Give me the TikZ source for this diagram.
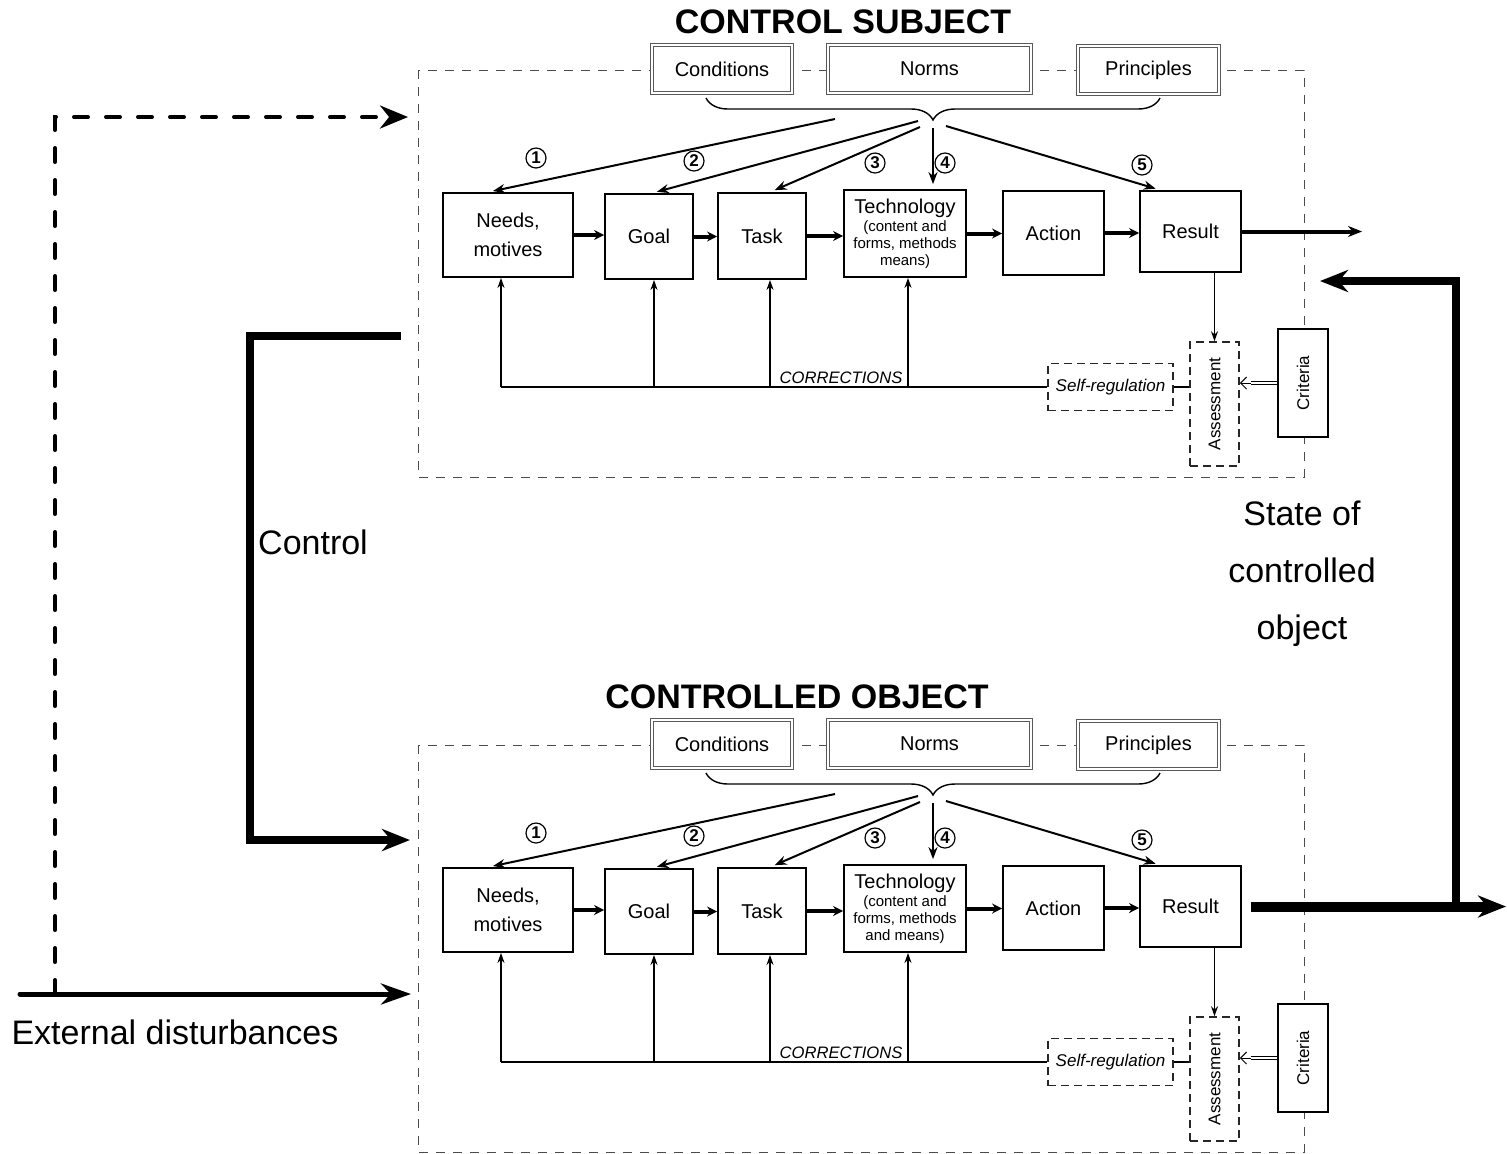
\documentclass[tikz,border=0pt]{standalone}
\usepackage{fontspec}
\setmainfont{Liberation Sans}
\usepackage{graphicx}
\usetikzlibrary{arrows.meta}
\usetikzlibrary{calc}
\usetikzlibrary{decorations.pathreplacing}

\newcommand{\tfont}{\fontsize{7.5}{8.5}\selectfont}

\tikzset{
    stagebox/.style={draw, line width=0.9pt, inner sep=0pt, align=center, font=\fontsize{10}{12}\selectfont},
    headbox/.style={draw=black!65, double=white, double distance=1.2pt, line width=0.6pt, fill=white, inner sep=0pt, minimum height=24pt, font=\fontsize{10}{12}\selectfont},
    framebox/.style={draw=black!70, line width=0.5pt, dash pattern=on 4.5pt off 4pt},
    dashbox/.style={draw=black!85, line width=0.8pt, dash pattern=on 4pt off 2.5pt, inner sep=0pt, font=\fontsize{8.5}{10}\selectfont},
    critbox/.style={draw, fill=white, line width=0.8pt, inner sep=0pt, font=\fontsize{8.5}{10}\selectfont},
    numcirc/.style={draw, circle, line width=0.6pt, minimum size=10pt, inner sep=0pt, font=\bfseries\fontsize{8.5}{9}\selectfont},
    flow/.style={line width=2pt, -{Stealth[length=5pt,width=5pt]}},
    normarrow/.style={line width=1pt, shorten >=2.5pt, -{Stealth[length=6pt,width=4.5pt]}},
    corrarrow/.style={line width=0.7pt, -{Stealth[length=5pt,width=3.5pt]}},
    bigarrow/.style={line width=4pt, -{Stealth[length=14pt,width=11pt]}},
    bigtext/.style={font=\fontsize{17}{28.5}\selectfont, align=center},
}

\begin{document}
\begin{tikzpicture}[x=0.5pt, y=-0.5pt]
    \useasboundingbox (0,0) rectangle (1507,1153);
    % the two blocks
    \foreach \n/\yo/\tx/\title/\tech in {s/0/843/CONTROL SUBJECT/{{\tfont (content and}\\[-3.5pt]{\tfont forms, methods}\\[-3.5pt]{\tfont means)}}, o/675/797/CONTROLLED OBJECT/{{\tfont (content and}\\[-3.5pt]{\tfont forms, methods}\\[-3.5pt]{\tfont and means)}}} {
    \begin{scope}[shift={(0,\yo)}]
        \node[font=\bfseries\fontsize{17}{20}\selectfont] (title\n) at (\tx,22) {\title};
        \draw[framebox] (418,70) rectangle (1304,477);
        \node[headbox, minimum width=70pt] (cond\n) at (722,69) {Conditions};
        \node[headbox, minimum width=101.5pt] (norms\n) at (929.5,69) {Norms};
        \node[headbox, minimum width=70.5pt] (princ\n) at (1148.5,70) {Principles};
        \draw[line width=0.7pt, decorate, decoration={brace, mirror, amplitude=11pt}] (706,98) -- (1160,98);
        \coordinate (tip\n) at (933,120);
        % stages
        \node[stagebox, minimum width=65pt, minimum height=42pt] (needs\n) at (508,235) {Needs,\\[2.5pt]motives};
        \node[stagebox, minimum width=44pt, minimum height=42.5pt] (goal\n) at (649,236.5) {Goal};
        \node[stagebox, minimum width=44pt, minimum height=43pt] (task\n) at (762,236) {Task};
        \node[stagebox, minimum width=61pt, minimum height=43.5pt] (tech\n) at (905,233.5) {Technology\\[-3pt]\tech};
        \node[stagebox, minimum width=50.5pt, minimum height=42pt] (action\n) at (1053.5,233) {Action};
        \node[stagebox, minimum width=50.5pt, minimum height=40.5pt] (result\n) at (1190.5,231.5) {Result};
        \foreach \a/\b in {needs/goal, goal/task, task/tech, tech/action, action/result}
            \draw[flow] (\a\n.east) -- (\a\n.east -| \b\n.west);
        % from norms to stages
        \draw[normarrow] ($(tip\n)+(-98,-1)$) -- ([xshift=-10pt]needs\n.north);
        \draw[normarrow] ($(tip\n)+(-15,1)$) -- ([xshift=1.5pt]goal\n.north);
        \draw[normarrow] ($(tip\n)+(-13,7)$) -- ([xshift=4pt]task\n.north);
        \draw[normarrow] ($(tip\n)+(0,8)$) -- ([xshift=14pt]tech\n.north);
        \draw[normarrow] ($(tip\n)+(13,6)$) -- ([xshift=-15pt]result\n.north);
        \foreach \k/\x/\y in {1/536/158, 2/694/161, 3/875/163, 4/945/163, 5/1142/165}
            \node[numcirc] (num\k\n) at (\x,\y) {\k};
        % corrections
        \node[dashbox, minimum width=62.5pt, minimum height=23.5pt] (selfreg\n) at (1110.5,387) {\itshape Self-regulation};
        \node[dashbox, minimum width=24.5pt, minimum height=62pt] (assess\n) at (1214.5,404) {\rotatebox{90}{Assessment}};
        \node[critbox, minimum width=25pt, minimum height=54pt] (crit\n) at (1303,383) {\rotatebox{90}{Criteria}};
        \draw[corrarrow] (assess\n.north |- result\n.south) -- (assess\n.north);
        \draw[line width=0.4pt, double, double distance=0.8pt] (crit\n.west) -- ++(-26,0) coordinate (twin\n);
        \draw[line width=0.5pt, -{Straight Barb[length=3pt,width=6pt]}] (twin\n) -- (twin\n -| assess\n.east);
        \draw[line width=0.7pt] (selfreg\n.east) -- (selfreg\n.east -| assess\n.west);
        \foreach \k/\x/\b in {1/501/needs, 2/654/goal, 3/770/task, 4/908/tech} {
            \coordinate (foot\k\n) at (\x,387);
            \draw[corrarrow] (foot\k\n) -- (foot\k\n |- \b\n.south);
        }
        \draw[line width=0.7pt] (selfreg\n.west) -- (foot1\n);
        \node[font=\itshape\fontsize{8.3}{10}\selectfont, anchor=south, inner sep=1.5pt] (corr\n) at (841,387) {CORRECTIONS};
    \end{scope}
    }
    % output of the subject
    \coordinate (outs) at (1362,234);
    \draw[line width=2pt, -{Stealth[length=7pt,width=5.5pt]}] (results.east) -- (results.east -| outs);
    % output of the object and feedback
    \coordinate (outo) at (1506,907);
    \coordinate (fbbase) at (1456,907);
    \coordinate (fbend) at (1320,281);
    \draw[bigarrow, line width=5pt] ([xshift=4.5pt]resulto.east) -- (resulto.east -| outo);
    \draw[bigarrow] (fbbase) -- (fbbase |- fbend) -- (fbend);
    \node[bigtext] (statelabel) at (1302,574) {State of\\controlled\\object};
    % control
    \coordinate (ctrlstart) at (401,336);
    \coordinate (ctrlend) at (410,840);
    \draw[bigarrow] (ctrlstart) -- ++(-151,0) |- (ctrlend);
    \node[bigtext] (control) at (313,542) {Control};
    % disturbances
    \coordinate (extstart) at (20,994);
    \coordinate (extend) at (411,994);
    \draw[line width=2.5pt, line cap=round, -{Stealth[length=15pt,width=10.5pt]}] (extstart) -- (extend);
    \coordinate (dashfoot) at (55,994);
    \coordinate (dashend) at (408,117);
    \draw[line width=2pt, line cap=round, dash pattern=on 7pt off 9pt, -{Stealth[length=14pt,width=11.5pt]}] (dashfoot) |- (dashend);
    \node[bigtext] (extlabel) at (175,1032) {External disturbances};
\end{tikzpicture}
\end{document}
